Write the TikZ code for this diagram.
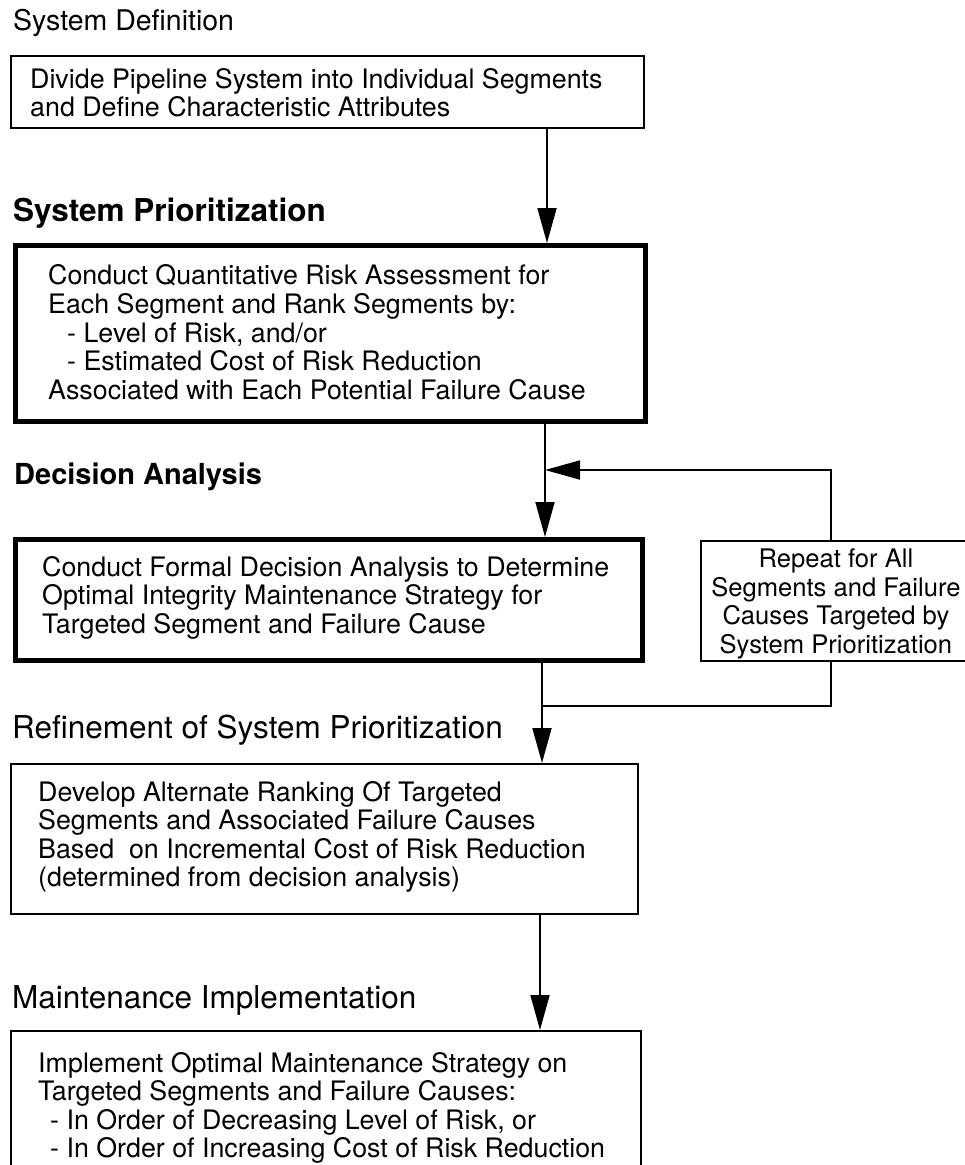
\documentclass[tikz,border=0pt]{standalone}
\usepackage{fontspec}
\setmainfont{TeX Gyre Heros}
\usetikzlibrary{arrows.meta}
\begin{document}
\begin{tikzpicture}[x=1pt,y=1pt,
  frame/.style={draw, line width=1.8pt, anchor=north west, inner sep=0pt},
  heavyframe/.style={frame, line width=4.5pt},
  boxtext/.style={anchor=west, align=left, inner sep=0pt,
    font=\fontsize{26.8}{28.6}\selectfont},
  centertext/.style={anchor=center, align=center, inner sep=0pt,
    font=\fontsize{25.6}{28.4}\selectfont},
  heading/.style={anchor=west, inner sep=0pt, font=\fontsize{#1}{#1}\selectfont},
  boldheading/.style={anchor=west, inner sep=0pt, font=\fontsize{#1}{#1}\selectfont\bfseries},
  link/.style={line width=1.8pt},
  arrow/.style={link, -{Triangle[length=35pt,width=19pt]}}]
\useasboundingbox (0,0) rectangle (965,-1165);

% section headings
\node[heading=28.5]     (hdef) at (13,-23)   {System Definition};
\node[boldheading=31.5] (hpri) at (13,-213)  {System Prioritization};
\node[boldheading=29]   (hdec) at (14,-477)  {Decision Analysis};
\node[heading=31.5]     (href) at (12,-730)  {Refinement of System Prioritization};
\node[heading=31.5]     (hmnt) at (12,-1000) {Maintenance Implementation};

% process boxes
\node[frame, minimum width=633pt, minimum height=72pt] (def) at (10,-55) {};
\node[boxtext] (tdef) at ([xshift=20pt,yshift=-1pt]def.west)
  {Divide Pipeline System into Individual Segments\\and Define Characteristic Attributes};

\node[heavyframe, minimum width=630pt, minimum height=176pt] (pri) at (13,-243) {};
\node[boxtext] (tpri) at ([xshift=35pt,yshift=1pt]pri.west)
  {Conduct Quantitative Risk Assessment for\\
   Each Segment and Rank Segments by:\\
   \hspace*{19pt}- Level of Risk, and/or\\
   \hspace*{19pt}- Estimated Cost of Risk Reduction\\
   Associated with Each Potential Failure Cause};

\node[heavyframe, minimum width=627pt, minimum height=121pt] (dec) at (13,-537) {};
\node[boxtext] (tdec) at ([xshift=29pt,yshift=2pt]dec.west)
  {Conduct Formal Decision Analysis to Determine\\
   Optimal Integrity Maintenance Strategy for\\
   Targeted Segment and Failure Cause};

\node[frame, minimum width=270pt, minimum height=120pt] (rep) at (700,-540) {};
\node[centertext] (trep) at ([xshift=0pt,yshift=-3pt]rep.center)
  {Repeat for All\\Segments and Failure\\Causes Targeted by\\System Prioritization};

\node[frame, minimum width=627pt, minimum height=150pt] (ref) at (10,-763) {};
\node[boxtext] (tref) at ([xshift=28pt,yshift=2pt]ref.west)
  {Develop Alternate Ranking Of Targeted\\
   Segments and Associated Failure Causes\\
   Based\ \ on Incremental Cost of Risk Reduction\\
   (determined from decision analysis)};

\node[frame, minimum width=630pt, minimum height=140pt] (mnt) at (10,-1030) {};
\node[boxtext] (tmnt) at ([xshift=28pt,yshift=-7pt]mnt.west)
  {Implement Optimal Maintenance Strategy on\\
   Targeted Segments and Failure Causes:\\
   \hspace*{12pt}- In Order of Decreasing Level of Risk, or\\
   \hspace*{12pt}- In Order of Increasing Cost of Risk Reduction};

% main flow
\coordinate (xa) at (547,0);
\coordinate (xb) at (545,0);
\coordinate (xc) at (542,0);
\coordinate (xd) at (540,0);
\coordinate (xr) at (831,0);
\coordinate (jtop) at (545,-470);
\coordinate (jbot) at (542,-706);

\draw[arrow] (def.south -| xa) -- (pri.north -| xa);
\draw[arrow] (pri.south -| xb) -- (dec.north -| xb);
\draw[arrow] (dec.south -| xc) -- (ref.north -| xc);
\draw[arrow] (ref.south -| xd) -- (mnt.north -| xd);

% repeat loop
\draw[arrow] (rep.north -| xr) |- (jtop);
\draw[link]  (rep.south -| xr) |- (jbot);
\end{tikzpicture}
\end{document}
